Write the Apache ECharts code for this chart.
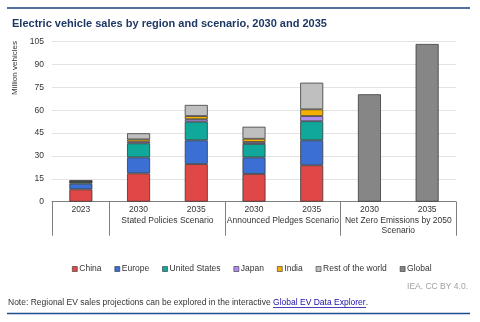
<!DOCTYPE html>
<html><head><meta charset="utf-8">
<script src="https://cdn.jsdelivr.net/npm/echarts@6/dist/echarts.min.js"></script>
<style>html,body{margin:0;padding:0;background:#fff}#c{width:480px;height:322px}</style>
</head><body><div id="c"></div>
<script>
const categories = ['2023','2030','2035','2030','2035','2030','2035'];
const groupLabels = {2:'Stated Policies Scenario', 4:'Announced Pledges Scenario', 6:'Net Zero Emissions by 2050\nScenario'};
const groupBounds = [0,1,3,5,7];
const groupCenters = [2,4,6];
const yTicks = [0,15,30,45,60,75,90,105];
const china  = [8.1, 18.6, 24.7, 18.2, 23.9, '-', '-'];
const europe = [3.7, 10.5, 15.6, 10.9, 16.4, '-', '-'];
const us     = [1.2, 9.2, 12.2, 8.8, 12.5, '-', '-'];
const japan  = [0.1, 1.1, 1.6, 1.3, 3.4, '-', '-'];
const india  = [0.1, 1.5, 2.1, 2.1, 4.4, '-', '-'];
const row    = [1.0, 4.0, 7.3, 7.9, 17.5, '-', '-'];
const globalV= ['-','-','-','-','-', 70.5, 103.5];

const seriesDefs = [
  ['China', china, '#e04848'],
  ['Europe', europe, '#3b6fd4'],
  ['United States', us, '#10a89a'],
  ['Japan', japan, '#b08cf0'],
  ['India', india, '#f5b000'],
  ['Rest of the world', row, '#bfbfbf'],
  ['Global', globalV, '#868686']
];

const chart = echarts.init(document.getElementById('c'), null, {renderer:'canvas'});
const font = 'Liberation Sans, Arial, sans-serif';
chart.setOption({
  animation:false,
  textStyle:{fontFamily:font},
  title:{text:'Electric vehicle sales by region and scenario, 2030 and 2035', left:7, top:13,
    textStyle:{fontSize:11, fontWeight:'bold', color:'#1f3864', fontFamily:font}},
  grid:{left:52, right:24, top:41.7, bottom:120.3, containLabel:false},
  legend:{left:67, top:259.5, itemWidth:5, itemHeight:5, itemGap:13, icon:'rect',
    textStyle:{fontSize:8.5, color:'#333', padding:[0,0,0,-3]},
    itemStyle:{borderColor:'#333', borderWidth:0.6},
    data:seriesDefs.map(s=>s[0])},
  xAxis:[
    {type:'category', data:categories, gridIndex:0, position:'bottom',
     axisLine:{show:true, lineStyle:{color:'#7f7f7f', width:1}},
     axisTick:{show:false},
     axisLabel:{fontSize:8.5, color:'#333', margin:3}},
    {type:'value', min:0, max:7, gridIndex:0, position:'bottom',
     axisLine:{show:false}, splitLine:{show:false},
     axisTick:{show:true, length:34, customValues:groupBounds, lineStyle:{color:'#7f7f7f', width:1}},
     axisLabel:{show:true, customValues:groupCenters, fontSize:8.5, color:'#333', margin:14, lineHeight:10,
       formatter:v=>groupLabels[v]||''}}
  ],
  yAxis:{type:'value', min:0, max:105, interval:15,
    axisLine:{show:false}, axisTick:{show:false},
    splitLine:{lineStyle:{color:'#e3e3e3', width:1}},
    axisLabel:{fontSize:8.5, color:'#333', margin:8}},
  graphic:[
    {type:'line', shape:{x1:7,y1:8,x2:470,y2:8}, style:{stroke:'#50709f', lineWidth:2}},
    {type:'line', shape:{x1:7,y1:313.5,x2:470,y2:313.5}, style:{stroke:'#1f4e8c', lineWidth:1.5}},
    {type:'text', x:15, y:68, rotation:Math.PI/2, style:{text:'Million vehicles', fontSize:8, fill:'#333', fontFamily:font, textAlign:'center', textVerticalAlign:'middle'}},
    {type:'text', right:12, top:282, style:{text:'IEA. CC BY 4.0.', fontSize:8.5, fill:'#a0a0a0', fontFamily:font}},
    {type:'text', left:8, top:298, style:{rich:{a:{fontSize:8.5, fill:'#333', fontFamily:font}, b:{fontSize:8.5, fill:'#1a0dab', fontFamily:font}}, text:'{a|Note: Regional EV sales projections can be explored in the interactive }{b|Global EV Data Explorer}{a|.}', fontSize:8.5, fontFamily:font}},
    {type:'line', shape:{x1:273,y1:307.5,x2:366,y2:307.5}, style:{stroke:'#1a0dab', lineWidth:0.8}}
  ],
  series:seriesDefs.map(s=>({name:s[0], type:'bar', stack:'total', xAxisIndex:0, data:s[1], barWidth:23,
    itemStyle:{color:s[2], borderColor:'#3a3a3a', borderWidth:0.8}}))
});
</script></body></html>
